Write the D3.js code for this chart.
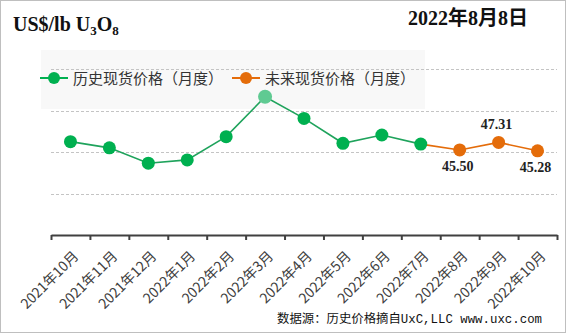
<!DOCTYPE html>
<html>
<head>
<meta charset="utf-8">
<script src="https://cdn.jsdelivr.net/npm/d3@7"></script>
<style>
  body { margin: 0; background: #fff; }
  svg { display: block; }
</style>
</head>
<body>
<div id="viz"></div>
<script>
// monthly spot price, US$/lb U3O8
var months = ['2021年10月', '2021年11月', '2021年12月', '2022年1月', '2022年2月', '2022年3月',
              '2022年4月', '2022年5月', '2022年6月', '2022年7月', '2022年8月', '2022年9月', '2022年10月'];
var histPrices = [47.5, 46.0, 42.3, 43.1, 48.7, 58.3, 53.1, 47.1, 49.1, 46.9];
var futurePrices = [45.50, 47.31, 45.28];
var seriesNames = ['历史现货价格（月度）', '未来现货价格（月度）'];
var yTicks = [35, 45, 55, 65];

var width = 567,
    height = 335,
    green = '#00b050',
    orange = '#e46c0a';

var svg = d3.select('#viz').append('svg')
    .attr('width', width)
    .attr('height', height);

// outer frame
svg.append('rect')
    .attr('x', 0.5).attr('y', 0.5)
    .attr('width', width - 2).attr('height', height - 3)
    .attr('fill', 'none')
    .attr('stroke', '#bfbfbf');

var x = d3.scaleBand()
    .domain(months)
    .range([51, 557]);

var xEdge = d3.scaleLinear()
    .domain([0, months.length])
    .range([51, 557]);

var y = d3.scaleLinear()
    .domain([25, 65])
    .range([235, 69]);

// legend background
svg.append('rect')
    .attr('x', 41).attr('y', 50)
    .attr('width', 384).attr('height', 59)
    .attr('fill', '#f8f8f8');

// grid
svg.append('g').selectAll('line').data(yTicks)
    .enter().append('line')
        .attr('x1', 51).attr('x2', 557)
        .attr('y1', function(d) { return Math.round(y(d)) + 0.5; })
        .attr('y2', function(d) { return Math.round(y(d)) + 0.5; })
        .attr('stroke', '#c4c4c4')
        .attr('stroke-dasharray', '3,2');

// x axis: ticks on band edges
var xAxis = svg.append('g')
    .attr('transform', 'translate(0,235)')
    .call(d3.axisBottom(xEdge).tickValues(d3.range(months.length + 1)).tickFormat('').tickSize(5).tickSizeOuter(0));
xAxis.select('.domain').attr('stroke', '#404040').attr('stroke-width', 2);
xAxis.selectAll('.tick line').attr('stroke', '#404040').attr('stroke-width', 2);

svg.append('g').selectAll('text').data(months)
    .enter().append('text')
        .attr('transform', function(d) {
            return 'translate(' + (x(d) + x.bandwidth() / 2 + 9) + ',257) rotate(-45)';
        })
        .attr('text-anchor', 'end')
        .style('font-family', '"Noto Sans CJK SC", sans-serif')
        .style('font-size', '14px')
        .attr('fill', '#404040')
        .text(function(d) { return d; });

var cx = function(i) { return x(months[i]) + x.bandwidth() / 2; };

var line = d3.line()
    .x(function(d) { return cx(d.i); })
    .y(function(d) { return y(d.v); });

var hist = histPrices.map(function(v, i) { return { i: i, v: v }; });
var fut = futurePrices.map(function(v, i) { return { i: i + histPrices.length, v: v }; });

svg.append('path')
    .datum(hist)
    .attr('d', line)
    .attr('fill', 'none')
    .attr('stroke', '#1fa35c')
    .attr('stroke-width', 1.6);

// future line starts from the last history point
svg.append('path')
    .datum([hist[hist.length - 1]].concat(fut))
    .attr('d', line)
    .attr('fill', 'none')
    .attr('stroke', orange)
    .attr('stroke-width', 1.6);

svg.append('g').selectAll('circle').data(hist)
    .enter().append('circle')
        .attr('cx', function(d) { return cx(d.i); })
        .attr('cy', function(d) { return y(d.v); })
        .attr('r', function(d) { return d.i === 5 ? 7 : 6.5; })
        .attr('fill', function(d) { return d.i === 5 ? '#5fca92' : green; });

svg.append('g').selectAll('circle').data(fut)
    .enter().append('circle')
        .attr('cx', function(d) { return cx(d.i); })
        .attr('cy', function(d) { return y(d.v); })
        .attr('r', 6.5)
        .attr('fill', orange);

// labels for future points (middle above, others below)
svg.append('g').selectAll('text').data(fut)
    .enter().append('text')
        .attr('x', function(d) { return cx(d.i) - 2; })
        .attr('y', function(d, i) { return i === 1 ? y(d.v) - 13 : y(d.v) + 21; })
        .attr('text-anchor', 'middle')
        .style('font-family', '"Liberation Serif", serif')
        .style('font-weight', 'bold')
        .style('font-size', '14px')
        .attr('fill', '#222')
        .text(function(d) { return d.v.toFixed(2); });

// legend
var legend = svg.append('g').selectAll('g').data(seriesNames)
    .enter().append('g')
        .attr('transform', function(d, i) { return 'translate(' + (i === 0 ? 40 : 232) + ',78)'; });
legend.append('line')
    .attr('x1', 0).attr('x2', 28)
    .attr('stroke', function(d, i) { return i === 0 ? green : orange; })
    .attr('stroke-width', 2);
legend.append('circle')
    .attr('cx', 14).attr('r', 6)
    .attr('fill', function(d, i) { return i === 0 ? green : orange; });
legend.append('text')
    .attr('x', 33).attr('y', 6)
    .style('font-family', '"Noto Sans CJK SC", sans-serif')
    .style('font-size', '15px')
    .attr('fill', '#333')
    .text(function(d) { return d; });

// titles
var title = svg.append('text')
    .attr('x', 13).attr('y', 31)
    .style('font-family', '"Liberation Serif", serif')
    .style('font-weight', 'bold')
    .style('font-size', '20px')
    .attr('fill', '#111');
title.append('tspan').text('US$/lb U');
title.append('tspan').attr('dy', 4).style('font-size', '13px').text('3');
title.append('tspan').attr('dy', -4).text('O');
title.append('tspan').attr('dy', 4).style('font-size', '13px').text('8');

svg.append('text')
    .attr('x', 528).attr('y', 25)
    .attr('text-anchor', 'end')
    .style('font-family', '"Liberation Serif", "Noto Sans CJK SC", serif')
    .style('font-weight', 'bold')
    .style('font-size', '20px')
    .attr('fill', '#111')
    .text('2022年8月8日');

svg.append('text')
    .attr('x', 277).attr('y', 323)
    .attr('textLength', 265)
    .attr('lengthAdjust', 'spacingAndGlyphs')
    .style('font-family', '"Liberation Mono", "Noto Sans CJK SC", monospace')
    .style('font-size', '12px')
    .attr('fill', '#111')
    .text('数据源：历史价格摘自UxC,LLC  www.uxc.com');
</script>
</body>
</html>
